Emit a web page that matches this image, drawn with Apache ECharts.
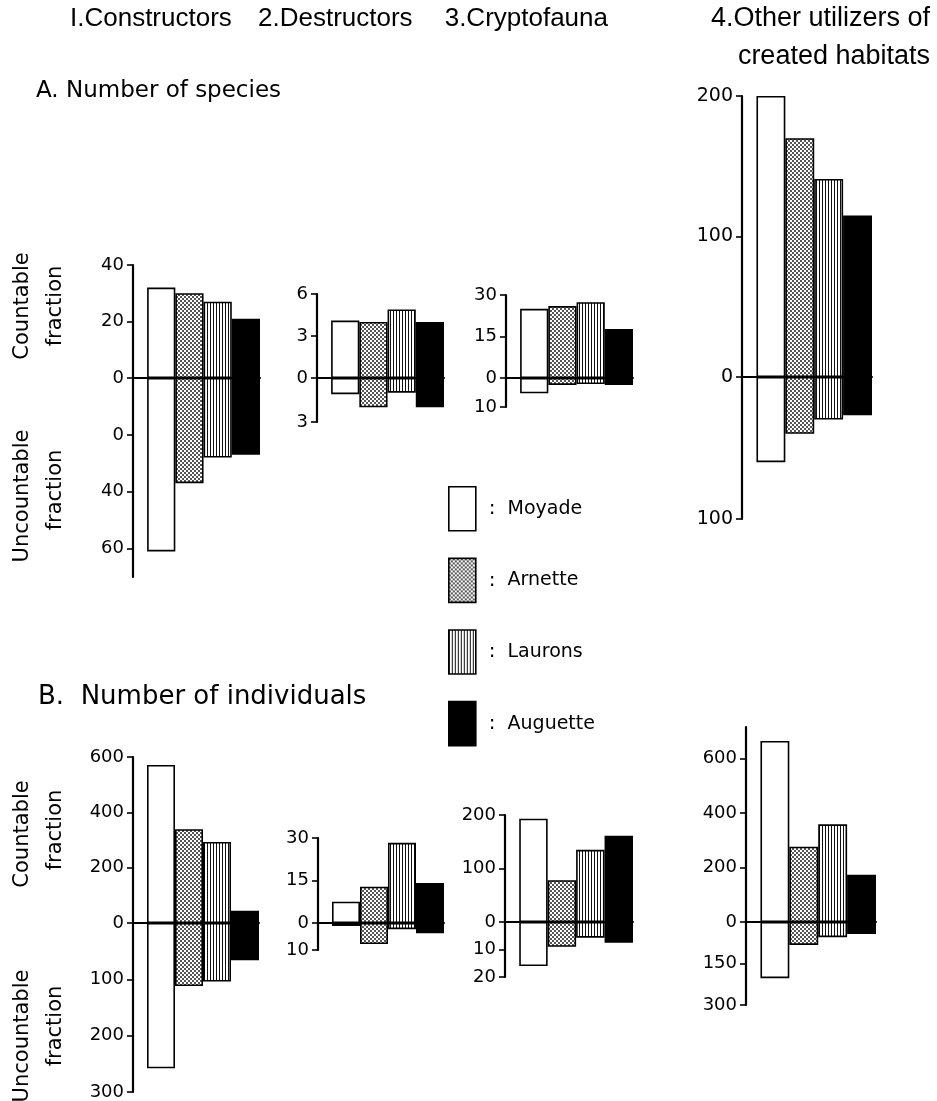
<!DOCTYPE html>
<html><head><meta charset="utf-8">
<script src="https://cdn.jsdelivr.net/npm/echarts@6/dist/echarts.min.js"></script>
<style>html,body{margin:0;padding:0;background:#fff}#c{width:937px;height:1101px}</style>
</head><body><div id="c"></div>
<script>
// ---- data ----
const sites = ['Moyade', 'Arnette', 'Laurons', 'Auguette'];
const groupTitles = ['I.Constructors', '2.Destructors', '3.Cryptofauna', '4.Other utilizers of', 'created habitats'];
const sectionTitles = ['A. Number of species', 'B.  Number of individuals'];

// A. Number of species
const speciesConstructorsCountable   = [32, 30, 27, 21];
const speciesConstructorsUncountable = [61, 37, 28, 27];
const speciesDestructorsCountable    = [4.1, 4.0, 4.9, 4.0];
const speciesDestructorsUncountable  = [1.1, 2.0, 1.0, 2.0];
const speciesCryptofaunaCountable    = [25, 26, 27.4, 17.7];
const speciesCryptofaunaUncountable  = [5.3, 2.4, 2.1, 2.4];
const speciesOtherCountable          = [200, 170, 141, 115];
const speciesOtherUncountable        = [60, 40, 30, 27];
// B. Number of individuals
const indivConstructorsCountable     = [571, 339, 293, 44];
const indivConstructorsUncountable   = [258, 112, 104, 66];
const indivDestructorsCountable      = [7.5, 12.8, 28.3, 14.1];
const indivDestructorsUncountable    = [1.1, 7.8, 2.3, 3.8];
const indivCryptofaunaCountable      = [193, 78, 135, 161];
const indivCryptofaunaUncountable    = [16, 9, 5.7, 7.5];
const indivOtherCountable            = [664, 276, 358, 173];
const indivOtherUncountable          = [203, 83, 55, 43];

// tick values (upper = countable, lower = uncountable) and tick labels
const ticksA1Up = [0, 20, 40],   ticksA1Down = [20, 40, 60],  labelsA1Down = ['0', '40', '60'];
const ticksA2Up = [0, 3, 6],     ticksA2Down = [3],           labelsA2Down = ['3'];
const ticksA3Up = [0, 15, 30],   ticksA3Down = [10],          labelsA3Down = ['10'];
const ticksA4Up = [0, 100, 200], ticksA4Down = [100],         labelsA4Down = ['100'];
const ticksB1Up = [0, 200, 400, 600], ticksB1Down = [100, 200, 300], labelsB1Down = ['100', '200', '300'];
const ticksB2Up = [0, 15, 30],   ticksB2Down = [10],          labelsB2Down = ['10'];
const ticksB3Up = [0, 100, 200], ticksB3Down = [10, 20],      labelsB3Down = ['10', '20'];
const ticksB4Up = [0, 200, 400, 600], ticksB4Down = [150, 300], labelsB4Down = ['150', '300'];

// ---- layout (pixel boxes of each panel) ----
const panels = [
  {up: speciesConstructorsCountable, down: speciesConstructorsUncountable, tu: ticksA1Up, td: ticksA1Down, ld: labelsA1Down, upMax: 40,  downMax: 70,  x0: 133, x1: 260, yTop: 265, y0: 378, yBot: 577, fs: 18},
  {up: speciesDestructorsCountable,  down: speciesDestructorsUncountable,  tu: ticksA2Up, td: ticksA2Down, ld: labelsA2Down, upMax: 6,   downMax: 3,   x0: 317, x1: 444, yTop: 294, y0: 378, yBot: 422, fs: 18},
  {up: speciesCryptofaunaCountable,  down: speciesCryptofaunaUncountable,  tu: ticksA3Up, td: ticksA3Down, ld: labelsA3Down, upMax: 30,  downMax: 10,  x0: 506, x1: 633, yTop: 295, y0: 378, yBot: 407, fs: 18},
  {up: speciesOtherCountable,        down: speciesOtherUncountable,        tu: ticksA4Up, td: ticksA4Down, ld: labelsA4Down, upMax: 200, downMax: 100, x0: 742, x1: 872, yTop: 96,  y0: 377, yBot: 519, fs: 19},
  {up: indivConstructorsCountable,   down: indivConstructorsUncountable,   tu: ticksB1Up, td: ticksB1Down, ld: labelsB1Down, upMax: 600, downMax: 300, x0: 133, x1: 259, yTop: 757, y0: 923, yBot: 1092, fs: 18},
  {up: indivDestructorsCountable,    down: indivDestructorsUncountable,    tu: ticksB2Up, td: ticksB2Down, ld: labelsB2Down, upMax: 30,  downMax: 10,  x0: 318, x1: 444, yTop: 838, y0: 923, yBot: 950, fs: 18},
  {up: indivCryptofaunaCountable,    down: indivCryptofaunaUncountable,    tu: ticksB3Up, td: ticksB3Down, ld: labelsB3Down, upMax: 200, downMax: 20,  x0: 505, x1: 633, yTop: 815, y0: 922, yBot: 977, fs: 18},
  {up: indivOtherCountable,          down: indivOtherUncountable,          tu: ticksB4Up, td: ticksB4Down, ld: labelsB4Down, upMax: 715, downMax: 300, x0: 746, x1: 876, yTop: 727, y0: 922, yBot: 1005, fs: 18}
];

// ---- fill patterns ----
function makePattern(kind) {
  const c = document.createElement('canvas');
  const ctx = c.getContext('2d');
  if (kind === 'dots') {
    c.width = 4; c.height = 4;
    ctx.fillStyle = '#fff'; ctx.fillRect(0, 0, 4, 4);
    ctx.fillStyle = '#555';
    ctx.fillRect(0, 0, 2, 2); ctx.fillRect(2, 2, 2, 2);
  } else {
    c.width = 3; c.height = 4;
    ctx.fillStyle = '#fff'; ctx.fillRect(0, 0, 3, 4);
    ctx.fillStyle = '#111';
    ctx.fillRect(0, 0, 1, 4);
  }
  return {image: c, repeat: 'repeat'};
}
const siteStyles = [
  {color: '#ffffff', borderColor: '#000', borderWidth: 1.6},
  {color: makePattern('dots'), borderColor: '#000', borderWidth: 1.6},
  {color: makePattern('lines'), borderColor: '#000', borderWidth: 1.6},
  {color: '#000000', borderColor: '#000', borderWidth: 1.6}
];

const numFont = 'DejaVu Sans';
const grids = [], xAxes = [], yAxes = [], series = [];
panels.forEach((p, i) => {
  const w = p.x1 - p.x0;
  const bw = w / 4.5;
  // upper (countable)
  grids.push({left: p.x0, top: p.yTop, width: w, height: p.y0 - p.yTop, containLabel: false});
  // lower (uncountable)
  grids.push({left: p.x0, top: p.y0, width: w, height: p.yBot - p.y0, containLabel: false});
  const gu = 2 * i, gd = 2 * i + 1;
  xAxes.push({gridIndex: gu, type: 'value', min: 0, max: 4.5, z: 10,
    axisLine: {show: true, onZero: false, lineStyle: {color: '#000', width: 2}},
    axisTick: {show: false}, axisLabel: {show: false}, splitLine: {show: false}});
  xAxes.push({gridIndex: gd, type: 'value', min: 0, max: 4.5, show: false});
  const axisBase = {
    type: 'value', min: 0,
    axisLine: {show: true, onZero: false, lineStyle: {color: '#000', width: 2.2}},
    splitLine: {show: false}
  };
  yAxes.push(Object.assign({}, axisBase, {gridIndex: gu, max: p.upMax,
    axisTick: {show: true, length: 6, customValues: p.tu, lineStyle: {color: '#000', width: 1.6}},
    axisLabel: {show: true, customValues: p.tu, margin: 9, color: '#000', fontFamily: numFont, fontSize: p.fs,
      formatter: v => String(v)}}));
  yAxes.push(Object.assign({}, axisBase, {gridIndex: gd, max: p.downMax, inverse: true,
    axisTick: {show: true, length: 6, customValues: p.td, lineStyle: {color: '#000', width: 1.6}},
    axisLabel: {show: true, customValues: p.td, margin: 9, color: '#000', fontFamily: numFont, fontSize: p.fs,
      formatter: v => { const k = p.td.indexOf(v); return k >= 0 ? p.ld[k] : ''; }}}));
  sites.forEach((s, k) => {
    series.push({type: 'bar', name: s, xAxisIndex: gu, yAxisIndex: gu, silent: true,
      barWidth: bw, barGap: '-100%', itemStyle: siteStyles[k], data: [[k + 1, p.up[k]]]});
    series.push({type: 'bar', name: s, xAxisIndex: gd, yAxisIndex: gd, silent: true,
      barWidth: bw, barGap: '-100%', itemStyle: siteStyles[k], data: [[k + 1, p.down[k]]]});
  });
});

const condFont = "'Liberation Sans', 'DejaVu Sans Condensed', sans-serif";
const geoFont = "'DejaVu Sans', sans-serif";
function txt(text, x, y, font, align, rot) {
  return {type: 'text', x: x, y: y, rotation: rot || 0, silent: true,
    style: {text: text, font: font, fill: '#000', align: align || 'left', verticalAlign: 'middle'}};
}
const graphics = [
  txt(groupTitles[0], 70, 19, '26px ' + condFont),
  txt(groupTitles[1], 258, 19, '26px ' + condFont),
  txt(groupTitles[2], 608, 19, '26px ' + condFont, 'right'),
  txt(groupTitles[3], 930, 19, '27px ' + condFont, 'right'),
  txt(groupTitles[4], 930, 57, '27px ' + condFont, 'right'),
  txt(sectionTitles[0], 36, 91, '23px ' + geoFont),
  txt(sectionTitles[1], 38, 697, '26px ' + geoFont),
  txt('Countable', 23, 306, '21px ' + geoFont, 'center', Math.PI / 2),
  txt('fraction', 56, 306, '21px ' + geoFont, 'center', Math.PI / 2),
  txt('Uncountable', 23, 496, '21px ' + geoFont, 'center', Math.PI / 2),
  txt('fraction', 56, 490, '21px ' + geoFont, 'center', Math.PI / 2),
  txt('Countable', 23, 834, '21px ' + geoFont, 'center', Math.PI / 2),
  txt('fraction', 56, 830, '21px ' + geoFont, 'center', Math.PI / 2),
  txt('Uncountable', 23, 1036, '21px ' + geoFont, 'center', Math.PI / 2),
  txt('fraction', 56, 1026, '21px ' + geoFont, 'center', Math.PI / 2)
];

const chart = echarts.init(document.getElementById('c'), null, {renderer: 'canvas'});
chart.setOption({
  backgroundColor: '#fff',
  animation: false,
  grid: grids,
  xAxis: xAxes,
  yAxis: yAxes,
  legend: {
    show: true, orient: 'vertical', left: 443, top: 481, selectedMode: false,
    itemWidth: 27, itemHeight: 44, itemGap: 26, icon: 'rect',
    itemStyle: {borderColor: '#000', borderWidth: 1.6},
    data: sites,
    formatter: n => '{c|:}{n|' + n + '}',
    textStyle: {color: '#000', fontFamily: geoFont,
      rich: {c: {fontSize: 20, fontFamily: 'DejaVu Sans', padding: [0, 12, 0, 8]},
             n: {fontSize: 19, fontFamily: 'DejaVu Sans'}}}
  },
  graphic: graphics,
  series: series
});
</script>
</body></html>
